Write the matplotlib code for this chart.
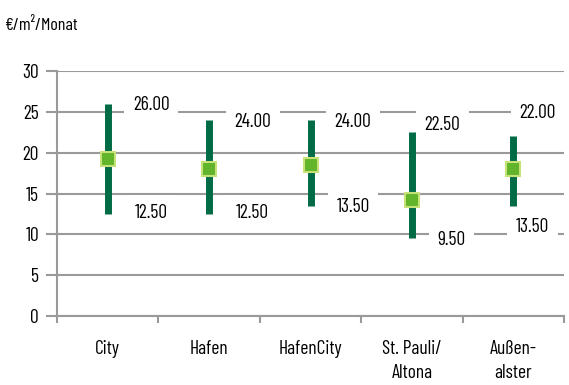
import matplotlib
matplotlib.use('Agg')
import matplotlib.pyplot as plt
from matplotlib import font_manager

# condensed face similar to the original
names = {f.name for f in font_manager.fontManager.ttflist}
face = next((n for n in ['Futura', 'Barlow Condensed', 'Roboto Condensed', 'Archivo Narrow']
             if n in names), 'DejaVu Sans')
plt.rcParams['font.family'] = [face, 'DejaVu Sans']

categories = ['City', 'Hafen', 'HafenCity', 'St. Pauli/\nAltona', 'Außen-\nalster']
low = [12.5, 12.5, 13.5, 9.5, 13.5]
high = [26.0, 24.0, 24.0, 22.5, 22.0]
mid = [19.2, 18.0, 18.5, 14.2, 18.0]

# label offsets (x in category units, y in data units)
high_off = [(0.43, -0.2), (0.43, -0.3), (0.42, -0.3), (0.30, 0.9), (0.24, 2.8)]
low_off = [(0.43, 0.1), (0.43, 0.1), (0.42, -0.2), (0.39, -0.2), (0.19, -2.6)]

fig = plt.figure(figsize=(5.69, 3.85), dpi=100)
ax = fig.add_axes([57 / 569, 1 - 316 / 385, 507 / 569, 245 / 385])

x = list(range(len(categories)))
for i in x:
    ax.vlines(i, low[i], high[i], color='#006b45', lw=5, zorder=3)
ax.plot(x, mid, 's', ms=10, mfc='#62b52a', mec='#c8e27a', mew=1.5, zorder=4, ls='none')

box = dict(boxstyle='square,pad=0.45', fc='white', ec='none')
for i in x:
    ax.text(i + high_off[i][0], high[i] + high_off[i][1], f'{high[i]:.2f}',
            ha='center', va='center', fontsize=14, bbox=box, zorder=2)
    ax.text(i + low_off[i][0], low[i] + low_off[i][1], f'{low[i]:.2f}',
            ha='center', va='center', fontsize=14, bbox=box, zorder=2)

ax.set_xlim(-0.5, len(categories) - 0.5)
ax.set_ylim(0, 30)
ax.set_yticks(range(0, 31, 5))
ax.yaxis.grid(True, color='#9a9a9a', lw=1.5, zorder=1)
ax.set_axisbelow(True)
ax.set_xticks([i + 0.5 for i in range(-1, len(categories))])
ax.set_xticklabels([])
ax.set_xticks(x, minor=True)
ax.set_xticklabels(categories, minor=True, fontsize=14, linespacing=1.45, va='top')
ax.tick_params(axis='x', which='minor', length=0, pad=17)
ax.tick_params(axis='x', which='major', length=5, width=1.5, color='#9a9a9a')
ax.tick_params(axis='y', length=8, width=1.5, color='#9a9a9a', labelsize=14, pad=5)
for s in ['top', 'right']:
    ax.spines[s].set_visible(False)
for s in ['left', 'bottom']:
    ax.spines[s].set_color('#9a9a9a')
    ax.spines[s].set_linewidth(1.5)

fig.text(5 / 569, 1 - 25 / 385, '€/m²/Monat', fontsize=13, va='center')

fig.savefig('out.png', dpi=100)
